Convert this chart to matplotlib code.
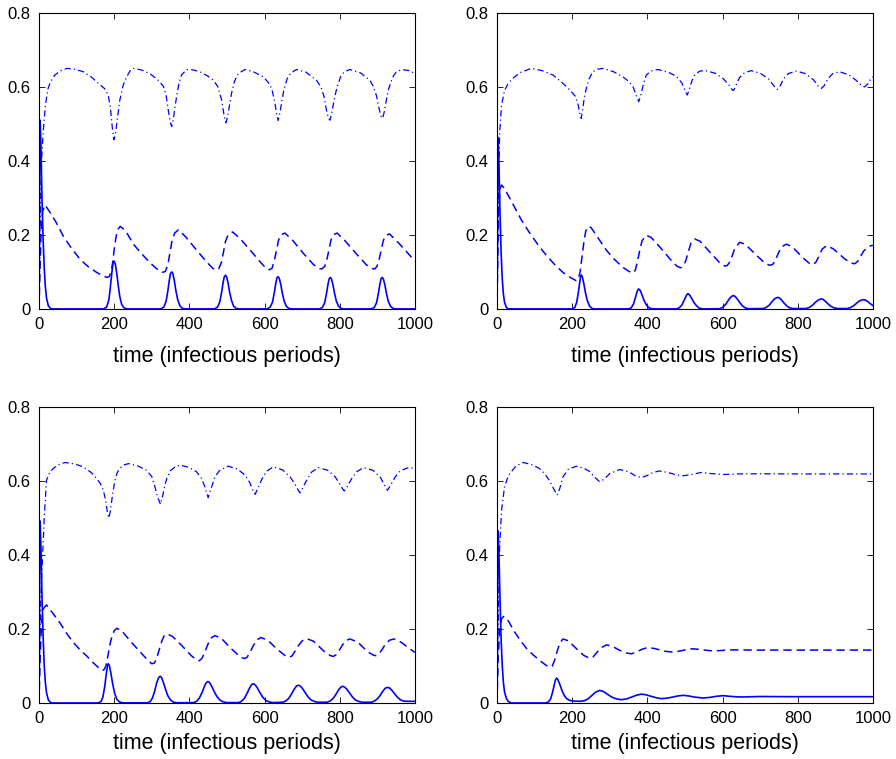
import matplotlib
matplotlib.use("Agg")
import matplotlib.pyplot as plt

# Four simulation runs: I (solid), second class (dashed), S (dash-dot).
# Values at key points.

# ---- panel (top left) ----
t_inf_a = [0, 1, 2, 3, 5, 8, 11, 14, 17, 20, 25, 32,
           172, 180, 186, 190, 194, 197, 200, 203, 207, 211, 215, 220, 226, 234,
           324, 332, 338, 343, 347, 350, 353, 356, 360, 364, 369, 375, 382, 390,
           467, 475, 481, 486, 490, 493, 496, 499, 503, 507, 512, 518, 525, 533,
           607, 615, 621, 626, 630, 633, 636, 639, 643, 647, 652, 658, 665, 673,
           746, 754, 760, 765, 769, 772, 775, 778, 782, 786, 791, 797, 804, 812,
           884, 892, 898, 903, 907, 910, 913, 916, 920, 924, 929, 935, 942, 950, 1000]
inf_a = [0, 0.15, 0.45, 0.51, 0.45, 0.30, 0.19, 0.11, 0.06, 0.03, 0.008, 0,
         0, 0.005, 0.025, 0.06, 0.10, 0.124, 0.129, 0.122, 0.095, 0.062, 0.033, 0.012, 0.003, 0,
         0, 0.005, 0.02, 0.05, 0.08, 0.096, 0.10, 0.096, 0.077, 0.05, 0.025, 0.008, 0.001, 0,
         0, 0.005, 0.019, 0.046, 0.073, 0.087, 0.091, 0.087, 0.07, 0.046, 0.023, 0.007, 0.001, 0,
         0, 0.005, 0.018, 0.044, 0.07, 0.084, 0.087, 0.083, 0.067, 0.044, 0.022, 0.007, 0.001, 0,
         0, 0.004, 0.017, 0.043, 0.068, 0.082, 0.085, 0.081, 0.065, 0.043, 0.021, 0.007, 0.001, 0,
         0, 0.004, 0.017, 0.043, 0.068, 0.082, 0.085, 0.081, 0.065, 0.043, 0.021, 0.007, 0.001, 0, 0]
t_mid_a = [0, 3, 6, 10, 16, 30, 45, 65, 85, 110, 130, 153, 170, 182,
           187, 192, 196, 200, 205, 210, 216, 230, 251, 275, 295, 315, 328,
           336, 343, 348, 354, 361, 371, 390, 420, 445, 462, 470,
           478, 485, 490, 496, 503, 515, 535, 565, 590, 605, 613,
           620, 626, 631, 637, 643, 654, 675, 705, 730, 745, 752,
           760, 766, 771, 777, 783, 793, 815, 845, 870, 885, 893,
           899, 905, 910, 916, 922, 932, 955, 980, 1000]
mid_a = [0, 0.12, 0.22, 0.265, 0.281, 0.26, 0.235, 0.196, 0.166, 0.133, 0.115, 0.099, 0.089, 0.085,
         0.088, 0.1, 0.125, 0.16, 0.195, 0.215, 0.223, 0.212, 0.175, 0.147, 0.125, 0.107, 0.099,
         0.101, 0.12, 0.15, 0.185, 0.205, 0.214, 0.195, 0.158, 0.128, 0.11, 0.105,
         0.108, 0.125, 0.15, 0.182, 0.2, 0.208, 0.19, 0.155, 0.125, 0.109, 0.106,
         0.11, 0.13, 0.155, 0.185, 0.2, 0.205, 0.185, 0.148, 0.12, 0.109, 0.108,
         0.115, 0.135, 0.158, 0.187, 0.2, 0.205, 0.183, 0.148, 0.12, 0.109, 0.108,
         0.115, 0.135, 0.158, 0.185, 0.198, 0.203, 0.18, 0.152, 0.129]
t_sus_a = [0, 2, 4, 7, 11, 17, 24, 30, 42, 56, 74, 95, 118, 140, 162, 175, 184, 190, 195, 199,
           203, 208, 215, 224, 233, 242, 251, 272, 295, 315, 331, 338, 344, 349, 353,
           357, 362, 366, 372, 379, 393, 410, 428, 448, 464, 476, 486, 492, 497,
           502, 507, 512, 520, 530, 548, 570, 597, 610, 619, 627, 632, 636,
           641, 646, 651, 660, 670, 685, 710, 738, 750, 758, 764, 770, 774,
           779, 785, 792, 802, 812, 827, 855, 880, 890, 898, 905, 910, 914,
           919, 924, 929, 940, 950, 964, 985, 1000]
sus_a = [0, 0.12, 0.28, 0.40, 0.475, 0.55, 0.595, 0.612, 0.632, 0.643, 0.65, 0.648, 0.641, 0.626, 0.606, 0.595, 0.578, 0.545, 0.49, 0.457,
         0.47, 0.51, 0.564, 0.605, 0.627, 0.643, 0.65, 0.646, 0.636, 0.62, 0.602, 0.578, 0.537, 0.505, 0.493,
         0.51, 0.548, 0.573, 0.608, 0.632, 0.647, 0.646, 0.641, 0.63, 0.618, 0.6, 0.564, 0.525, 0.503,
         0.52, 0.552, 0.582, 0.615, 0.636, 0.647, 0.641, 0.627, 0.612, 0.596, 0.56, 0.527, 0.509,
         0.53, 0.562, 0.59, 0.622, 0.638, 0.647, 0.64, 0.618, 0.6, 0.575, 0.54, 0.515, 0.51,
         0.53, 0.565, 0.596, 0.627, 0.641, 0.647, 0.638, 0.618, 0.6, 0.575, 0.54, 0.52, 0.515,
         0.535, 0.565, 0.591, 0.625, 0.64, 0.647, 0.644, 0.636]

# ---- panel (top right) ----
t_inf_b = [0, 1, 2, 3, 5, 8, 11, 14, 17, 20, 25, 30,
           200, 207, 212, 216, 220, 222, 224, 227, 231, 235, 240, 246, 253, 262,
           350, 357, 363, 368, 372, 375, 377, 381, 386, 391, 397, 404, 412, 420,
           477, 485, 492, 498, 503, 506, 508, 512, 518, 524, 531, 538, 546,
           592, 600, 608, 615, 621, 626, 629, 633, 639, 646, 653, 660, 668,
           708, 716, 724, 731, 738, 743, 747, 751, 757, 764, 771, 778, 787,
           822, 831, 839, 846, 853, 859, 863, 867, 873, 880, 888, 896, 905,
           932, 941, 949, 956, 963, 970, 975, 980, 986, 993, 1000]
inf_b = [0, 0.15, 0.42, 0.463, 0.40, 0.26, 0.15, 0.08, 0.04, 0.018, 0.004, 0,
         0, 0.004, 0.018, 0.042, 0.072, 0.085, 0.092, 0.087, 0.068, 0.045, 0.023, 0.008, 0.001, 0,
         0, 0.003, 0.013, 0.03, 0.045, 0.052, 0.054, 0.05, 0.037, 0.023, 0.011, 0.003, 0.0005, 0,
         0, 0.003, 0.011, 0.024, 0.035, 0.04, 0.041, 0.038, 0.028, 0.017, 0.008, 0.002, 0,
         0.0005, 0.004, 0.012, 0.023, 0.031, 0.035, 0.036, 0.034, 0.027, 0.017, 0.008, 0.003, 0.0005,
         0.001, 0.004, 0.01, 0.019, 0.027, 0.03, 0.031, 0.03, 0.024, 0.015, 0.008, 0.003, 0.001,
         0.001, 0.004, 0.01, 0.017, 0.023, 0.026, 0.027, 0.026, 0.021, 0.014, 0.007, 0.003, 0.001,
         0.001, 0.004, 0.009, 0.015, 0.021, 0.024, 0.025, 0.024, 0.02, 0.014, 0.009]
t_mid_b = [0, 2, 5, 8, 12, 20, 43, 65, 87, 110, 131, 155, 175, 195, 211,
           216, 221, 226, 231, 236, 242, 250, 270, 290, 310, 335, 355, 362,
           368, 374, 380, 386, 397, 410, 435, 460, 478, 488,
           495, 502, 509, 516, 526, 540, 565, 590, 605, 612,
           618, 625, 632, 645, 660, 690, 712, 725, 733,
           740, 748, 757, 770, 785, 815, 832, 841,
           848, 856, 865, 877, 895, 925, 942, 951,
           958, 966, 975, 985, 995, 1000]
mid_b = [0, 0.15, 0.28, 0.325, 0.335, 0.325, 0.282, 0.24, 0.205, 0.172, 0.145, 0.118, 0.099, 0.085, 0.076,
         0.08, 0.1, 0.14, 0.18, 0.21, 0.223, 0.22, 0.19, 0.16, 0.136, 0.112, 0.099, 0.097,
         0.105, 0.13, 0.16, 0.185, 0.199, 0.193, 0.165, 0.135, 0.116, 0.111,
         0.115, 0.13, 0.155, 0.178, 0.189, 0.183, 0.155, 0.127, 0.116, 0.117,
         0.125, 0.142, 0.162, 0.18, 0.175, 0.145, 0.124, 0.118, 0.12,
         0.13, 0.15, 0.168, 0.175, 0.168, 0.137, 0.122, 0.12,
         0.126, 0.142, 0.162, 0.171, 0.162, 0.135, 0.124, 0.122,
         0.127, 0.14, 0.156, 0.166, 0.171, 0.172]
t_sus_b = [0, 2, 4, 7, 12, 20, 30, 42, 60, 91, 120, 149, 175, 195, 208, 215, 220, 224,
           228, 232, 238, 245, 255, 268, 282, 310, 335, 350, 362, 370, 377,
           383, 390, 397, 410, 428, 455, 477, 492, 500, 506,
           512, 519, 526, 538, 552, 580, 601, 615, 623, 629,
           636, 645, 658, 676, 700, 722, 737, 745,
           752, 762, 775, 796, 820, 842, 856, 863,
           870, 880, 893, 911, 935, 955, 970, 978,
           986, 992, 1000]
sus_b = [0, 0.15, 0.32, 0.475, 0.55, 0.59, 0.61, 0.623, 0.638, 0.65, 0.644, 0.632, 0.61, 0.59, 0.575, 0.555, 0.53, 0.515,
         0.54, 0.57, 0.598, 0.622, 0.641, 0.648, 0.65, 0.641, 0.627, 0.615, 0.6, 0.578, 0.56,
         0.58, 0.61, 0.632, 0.643, 0.647, 0.64, 0.629, 0.61, 0.59, 0.578,
         0.595, 0.618, 0.632, 0.642, 0.645, 0.637, 0.623, 0.608, 0.595, 0.59,
         0.605, 0.625, 0.638, 0.644, 0.637, 0.622, 0.602, 0.593,
         0.6, 0.622, 0.636, 0.643, 0.636, 0.619, 0.6, 0.596,
         0.603, 0.622, 0.636, 0.641, 0.633, 0.618, 0.603, 0.6,
         0.608, 0.618, 0.628]

# ---- panel (bottom left) ----
t_inf_c = [0, 1, 2, 3, 5, 8, 11, 14, 17, 20, 25, 32,
           158, 165, 170, 175, 179, 182, 184, 187, 191, 196, 201, 207, 214, 222,
           289, 296, 302, 308, 313, 318, 322, 326, 331, 337, 343, 350, 358, 368,
           412, 420, 427, 434, 440, 445, 449, 453, 459, 466, 473, 481, 490, 500,
           530, 538, 546, 553, 560, 566, 570, 574, 580, 587, 595, 603, 612, 622,
           648, 656, 664, 671, 678, 685, 690, 695, 701, 708, 716, 724, 733, 742,
           766, 774, 782, 789, 796, 803, 808, 813, 819, 826, 834, 842, 851, 860,
           884, 892, 900, 907, 914, 921, 927, 932, 938, 945, 953, 961, 970, 980, 1000]
inf_c = [0, 0.15, 0.44, 0.492, 0.43, 0.29, 0.18, 0.10, 0.055, 0.028, 0.008, 0,
         0, 0.004, 0.016, 0.045, 0.078, 0.10, 0.106, 0.102, 0.082, 0.052, 0.027, 0.01, 0.003, 0.0005,
         0.0005, 0.004, 0.014, 0.033, 0.054, 0.068, 0.072, 0.069, 0.055, 0.036, 0.019, 0.008, 0.002, 0.0005,
         0.001, 0.005, 0.014, 0.029, 0.045, 0.055, 0.058, 0.056, 0.046, 0.031, 0.018, 0.008, 0.003, 0.001,
         0.001, 0.004, 0.012, 0.025, 0.04, 0.05, 0.052, 0.05, 0.042, 0.029, 0.016, 0.007, 0.003, 0.001,
         0.002, 0.005, 0.012, 0.023, 0.036, 0.046, 0.048, 0.046, 0.039, 0.028, 0.016, 0.008, 0.004, 0.002,
         0.002, 0.005, 0.012, 0.022, 0.034, 0.043, 0.045, 0.043, 0.037, 0.027, 0.016, 0.008, 0.004, 0.002,
         0.002, 0.005, 0.011, 0.02, 0.031, 0.04, 0.042, 0.041, 0.035, 0.026, 0.016, 0.009, 0.005, 0.0045, 0.0045]
t_mid_c = [0, 3, 7, 12, 20, 35, 56, 75, 91, 110, 127, 145, 160, 168,
           173, 178, 183, 188, 194, 200, 207, 220, 245, 270, 290, 300,
           307, 313, 320, 327, 333, 340, 355, 380, 405, 420, 426,
           433, 441, 449, 457, 468, 485, 510, 535, 546,
           553, 561, 570, 579, 590, 608, 635, 656, 666,
           673, 681, 690, 700, 712, 730, 758, 775, 783,
           790, 799, 808, 817, 827, 847, 875, 890, 896,
           904, 913, 922, 933, 945, 965, 985, 1000]
mid_c = [0, 0.12, 0.22, 0.255, 0.265, 0.245, 0.216, 0.186, 0.164, 0.143, 0.127, 0.108, 0.094, 0.088,
         0.09, 0.1, 0.125, 0.155, 0.18, 0.195, 0.202, 0.195, 0.165, 0.137, 0.115, 0.106,
         0.108, 0.12, 0.145, 0.168, 0.182, 0.187, 0.18, 0.155, 0.128, 0.116, 0.114,
         0.12, 0.137, 0.158, 0.175, 0.182, 0.175, 0.148, 0.125, 0.12,
         0.123, 0.136, 0.155, 0.17, 0.177, 0.17, 0.144, 0.127, 0.124,
         0.127, 0.14, 0.155, 0.168, 0.174, 0.167, 0.14, 0.128, 0.126,
         0.13, 0.143, 0.158, 0.169, 0.173, 0.165, 0.138, 0.129, 0.128,
         0.132, 0.145, 0.16, 0.17, 0.173, 0.163, 0.147, 0.137]
t_sus_c = [0, 2, 4, 7, 10, 14, 20, 28, 38, 52, 69, 95, 118, 140, 153, 164, 171, 177, 182, 186,
           190, 196, 202, 208, 215, 225, 238, 262, 286, 300, 308.5, 315, 323,
           329, 334, 340, 350, 362, 375, 398, 419, 432, 441, 450,
           458, 468, 480, 503, 528, 548, 560, 568, 575,
           583, 593, 605, 623, 648, 668, 680, 688, 694,
           702, 713, 725, 743, 768, 788, 800, 808, 812,
           820, 832, 845, 863, 888, 908, 920, 927,
           935, 947, 960, 982, 1000]
sus_c = [0, 0.12, 0.25, 0.34, 0.404, 0.50, 0.602, 0.622, 0.634, 0.644, 0.65, 0.646, 0.638, 0.622, 0.607, 0.592, 0.575, 0.55, 0.515, 0.50,
         0.52, 0.565, 0.602, 0.622, 0.634, 0.643, 0.647, 0.641, 0.629, 0.612, 0.584, 0.558, 0.537,
         0.56, 0.585, 0.607, 0.628, 0.638, 0.643, 0.637, 0.625, 0.608, 0.585, 0.555,
         0.58, 0.611, 0.628, 0.64, 0.632, 0.616, 0.597, 0.577, 0.564,
         0.582, 0.605, 0.626, 0.638, 0.63, 0.611, 0.593, 0.578, 0.568,
         0.582, 0.604, 0.624, 0.636, 0.629, 0.611, 0.592, 0.578, 0.573,
         0.585, 0.607, 0.625, 0.636, 0.629, 0.61, 0.587, 0.575,
         0.588, 0.61, 0.627, 0.636, 0.634]

# ---- panel (bottom right) ----
t_inf_d = [0, 1, 2, 3, 5, 8, 11, 14, 17, 20, 25, 30, 38,
           130, 137, 143, 148, 152, 155, 158, 161, 166, 172, 178, 185, 193, 205, 220,
           232, 242, 252, 262, 273, 283, 293, 305, 318, 331, 345, 358, 371, 384,
           397, 410, 424, 437, 452, 467, 481, 495, 510, 525, 548, 565, 583, 601,
           620, 640, 660, 680, 700, 750, 800, 900, 1000]
inf_d = [0, 0.15, 0.42, 0.465, 0.41, 0.28, 0.17, 0.10, 0.055, 0.03, 0.012, 0.004, 0,
         0, 0.003, 0.012, 0.03, 0.048, 0.061, 0.067, 0.065, 0.053, 0.036, 0.022, 0.012, 0.007, 0.005, 0.0045,
         0.006, 0.011, 0.02, 0.029, 0.034, 0.031, 0.024, 0.016, 0.011, 0.009, 0.011, 0.016, 0.021, 0.024,
         0.022, 0.018, 0.014, 0.0117, 0.013, 0.016, 0.019, 0.0207, 0.019, 0.016, 0.0135, 0.015, 0.018, 0.0198,
         0.018, 0.0165, 0.0163, 0.017, 0.0175, 0.0172, 0.017, 0.017, 0.017]
t_mid_d = [0, 3, 7, 12, 18, 30, 45, 60, 78, 96, 115, 130, 140,
           147, 153, 160, 167, 175.5, 190, 210, 230, 246,
           256, 266, 278, 291, 305, 325, 345, 357,
           370, 385, 401, 420, 445, 468, 490, 505, 521, 545, 565, 583,
           605, 630, 680, 750, 850, 1000]
mid_d = [0, 0.12, 0.20, 0.228, 0.234, 0.222, 0.195, 0.172, 0.148, 0.13, 0.114, 0.102, 0.097,
         0.10, 0.115, 0.14, 0.162, 0.173, 0.168, 0.148, 0.129, 0.121,
         0.125, 0.137, 0.15, 0.157, 0.154, 0.143, 0.135, 0.133,
         0.137, 0.145, 0.15, 0.147, 0.14, 0.1375, 0.141, 0.145, 0.1465, 0.144, 0.1415, 0.141,
         0.1425, 0.1435, 0.143, 0.143, 0.143, 0.143]
t_sus_d = [0, 2, 4, 7, 12, 20, 27, 34, 50, 69, 90, 113, 128, 140, 150, 160,
           167, 175.5, 190, 211, 230, 246, 260, 273,
           285, 300, 326, 350, 368, 384, 400, 415, 432, 455, 475, 495,
           520, 543, 570, 601, 640, 700, 800, 1000]
sus_d = [0, 0.12, 0.26, 0.42, 0.52, 0.584, 0.605, 0.62, 0.64, 0.65, 0.645, 0.634, 0.618, 0.60, 0.58, 0.562,
         0.58, 0.611, 0.632, 0.64, 0.635, 0.626, 0.61, 0.598,
         0.605, 0.62, 0.631, 0.625, 0.614, 0.609, 0.615, 0.623, 0.627, 0.623, 0.617, 0.614,
         0.618, 0.623, 0.62, 0.6175, 0.619, 0.6195, 0.619, 0.619]

panels = [
    (t_inf_a, inf_a, t_mid_a, mid_a, t_sus_a, sus_a),
    (t_inf_b, inf_b, t_mid_b, mid_b, t_sus_b, sus_b),
    (t_inf_c, inf_c, t_mid_c, mid_c, t_sus_c, sus_c),
    (t_inf_d, inf_d, t_mid_d, mid_d, t_sus_d, sus_d),
]

BLUE = "#0000ff"
plt.rcParams["font.family"] = ["Liberation Sans", "DejaVu Sans"]

fig = plt.figure(figsize=(8.96, 7.59), dpi=100)
# axes boxes in figure fractions (left, bottom, width, height), xlabel pad
boxes = [
    ((0.0435, 0.593, 0.4196, 0.390), 10),
    ((0.5547, 0.593, 0.4196, 0.390), 10),
    ((0.0435, 0.0738, 0.4196, 0.390), 5),
    ((0.5547, 0.0738, 0.4196, 0.390), 5),
]

for (box, lpad), (ti, yi, tm, ym, ts, ys) in zip(boxes, panels):
    ax = fig.add_axes(box)
    ax.plot(ti, yi, color=BLUE, lw=1.2, linestyle="-")
    ax.plot(tm, ym, color=BLUE, lw=1.1, linestyle=(0, (5.5, 3.2)))
    ax.plot(ts, ys, color=BLUE, lw=0.9, linestyle=(0, (5, 2.5, 1, 2.5)))
    ax.set_xlim(0, 1000)
    ax.set_ylim(0, 0.8)
    ax.set_xticks([0, 200, 400, 600, 800, 1000])
    ax.set_yticks([0, 0.2, 0.4, 0.6, 0.8])
    ax.set_yticklabels(["0", "0.2", "0.4", "0.6", "0.8"])
    ax.tick_params(direction="in", top=True, right=True, length=4, width=0.6,
                   labelsize=12, pad=6)
    for sp in ax.spines.values():
        sp.set_linewidth(0.8)
    ax.set_xlabel("time (infectious periods)", fontsize=15.5, labelpad=lpad)

fig.savefig("out.png", dpi=100)
